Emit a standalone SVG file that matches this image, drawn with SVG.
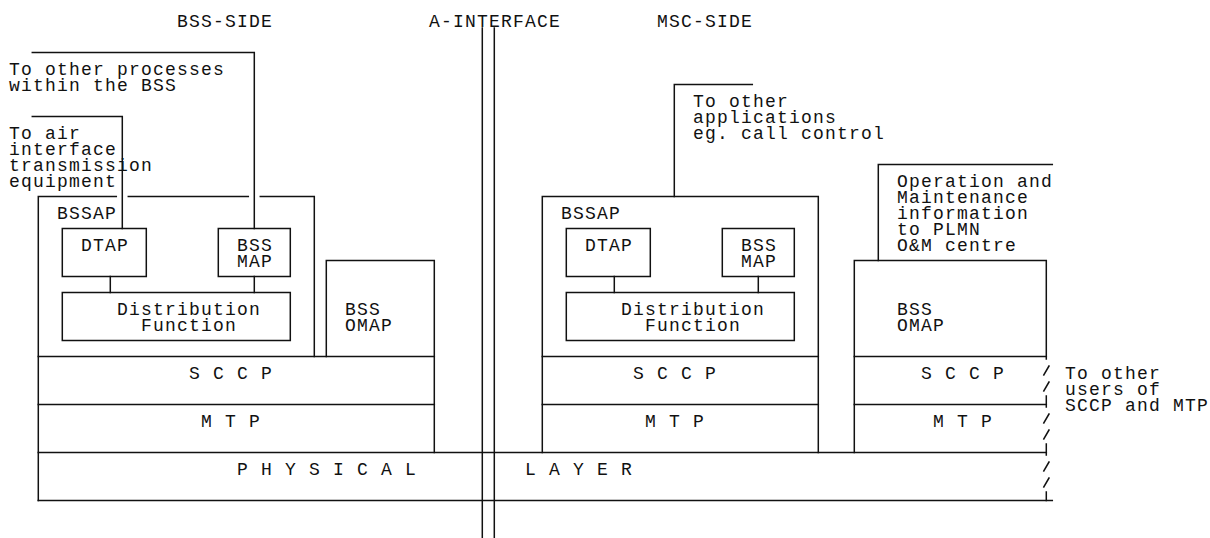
<svg xmlns="http://www.w3.org/2000/svg" width="1210" height="538" viewBox="0 0 1210 538">
<style>
.l{stroke:#111;stroke-width:1.5;fill:none;stroke-linecap:square}
text{font-family:"Liberation Mono","Courier New",monospace;font-size:18px;letter-spacing:1.2px;fill:#111}
</style>
<rect width="1210" height="538" fill="#fff"/>
<g id="headers">
<text x="176.9" y="26.5">BSS-SIDE</text>
<text x="428.9" y="26.5">A-INTERFACE</text>
<text x="656.9" y="26.5">MSC-SIDE</text>
</g>
<g id="a-interface">
<path class="l" d="M482.3 28V538M494.3 28V538"/>
</g>
<g id="bss-other-processes">
<text x="8.9" y="74.5">To other processes</text>
<text x="8.9" y="90.5">within the BSS</text>
</g>
<g id="bss-air">
<text x="8.9" y="138.5">To air</text>
<text x="8.9" y="154.5">interface</text>
<text x="8.9" y="170.5">transmission</text>
<text x="8.9" y="186.5">equipment</text>
</g>
<g id="bss-bssap">
<path class="l" d="M38.3 196.5H116.3M128.3 196.5H248.3M260.3 196.5H314.3M38.3 196.5V500.5M314.3 196.5V356.5"/>
<text x="56.9" y="218.5">BSSAP</text>
</g>
<g id="bss-dtap">
<rect class="l" x="62.3" y="228.5" width="84" height="48"/>
<text x="80.9" y="250.5">DTAP</text>
</g>
<g id="bss-bssmap">
<rect class="l" x="218.3" y="228.5" width="72" height="48"/>
<text x="236.9" y="250.5">BSS</text>
<text x="236.9" y="266.5">MAP</text>
</g>
<g id="bss-distribution">
<rect class="l" x="62.3" y="292.5" width="228" height="48"/>
<text x="116.9" y="314.5">Distribution</text>
<text x="140.9" y="330.5">Function</text>
</g>
<g id="bss-omap">
<path class="l" d="M326.3 356.5V260.5H434.3V452.5"/>
<text x="344.9" y="314.5">BSS</text>
<text x="344.9" y="330.5">OMAP</text>
</g>
<g id="bss-sccp">
<path class="l" d="M38.3 356.5H434.3"/>
<text x="188.9" y="378.5">S C C P</text>
</g>
<g id="bss-mtp">
<path class="l" d="M38.3 404.5H434.3"/>
<text x="200.9" y="426.5">M T P</text>
</g>
<g id="physical-layer">
<path class="l" d="M38.3 452.5H1046.3M38.3 500.5H1052.3"/>
<text x="236.9" y="474.5">P H Y S I C A L</text>
<text x="524.9" y="474.5">L A Y E R</text>
</g>
<g id="msc-other-apps">
<text x="692.9" y="106.5">To other</text>
<text x="692.9" y="122.5">applications</text>
<text x="692.9" y="138.5">eg. call control</text>
</g>
<g id="msc-bssap">
<path class="l" d="M542.3 452.5V196.5H818.3V452.5"/>
<text x="560.9" y="218.5">BSSAP</text>
</g>
<g id="msc-dtap">
<rect class="l" x="566.3" y="228.5" width="84" height="48"/>
<text x="584.9" y="250.5">DTAP</text>
</g>
<g id="msc-bssmap">
<rect class="l" x="722.3" y="228.5" width="72" height="48"/>
<text x="740.9" y="250.5">BSS</text>
<text x="740.9" y="266.5">MAP</text>
</g>
<g id="msc-distribution">
<rect class="l" x="566.3" y="292.5" width="228" height="48"/>
<text x="620.9" y="314.5">Distribution</text>
<text x="644.9" y="330.5">Function</text>
</g>
<g id="msc-sccp">
<path class="l" d="M542.3 356.5H818.3"/>
<text x="632.9" y="378.5">S C C P</text>
</g>
<g id="msc-mtp">
<path class="l" d="M542.3 404.5H818.3"/>
<text x="644.9" y="426.5">M T P</text>
</g>
<g id="om-info">
<text x="896.9" y="186.5">Operation and</text>
<text x="896.9" y="202.5">Maintenance</text>
<text x="896.9" y="218.5">information</text>
<text x="896.9" y="234.5">to PLMN</text>
<text x="896.9" y="250.5">O&amp;M centre</text>
</g>
<g id="msc-omap">
<path class="l" d="M854.3 452.5V260.5H1046.3V359"/>
<text x="896.9" y="314.5">BSS</text>
<text x="896.9" y="330.5">OMAP</text>
</g>
<g id="msc-sccp2">
<path class="l" d="M854.3 356.5H1046.3"/>
<text x="920.9" y="378.5">S C C P</text>
</g>
<g id="msc-mtp2">
<path class="l" d="M854.3 404.5H1046.3"/>
<text x="932.9" y="426.5">M T P</text>
</g>
<g id="other-users">
<path class="l" d="M1043.8 375L1049 366M1043.8 391L1049 382M1046.3 396V407M1043.8 423L1049 414M1043.8 439L1049 430M1046.3 444V455M1043.8 471L1049 462M1043.8 487L1049 478M1046.3 492V500.5"/>
<text x="1064.9" y="378.5">To other</text>
<text x="1064.9" y="394.5">users of</text>
<text x="1064.9" y="410.5">SCCP and MTP</text>
</g>
<g id="connectors">
<path class="l" d="M32.3 52.5H254.3V228.5"/>
<path class="l" d="M32.3 116.5H122.3V228.5"/>
<path class="l" d="M110.3 276.5V292.5M254.3 276.5V292.5"/>
<path class="l" d="M752.3 84.5H674.3V196.5"/>
<path class="l" d="M614.3 276.5V292.5M758.3 276.5V292.5"/>
<path class="l" d="M1052.3 164.5H878.3V260.5"/>
</g>
</svg>
